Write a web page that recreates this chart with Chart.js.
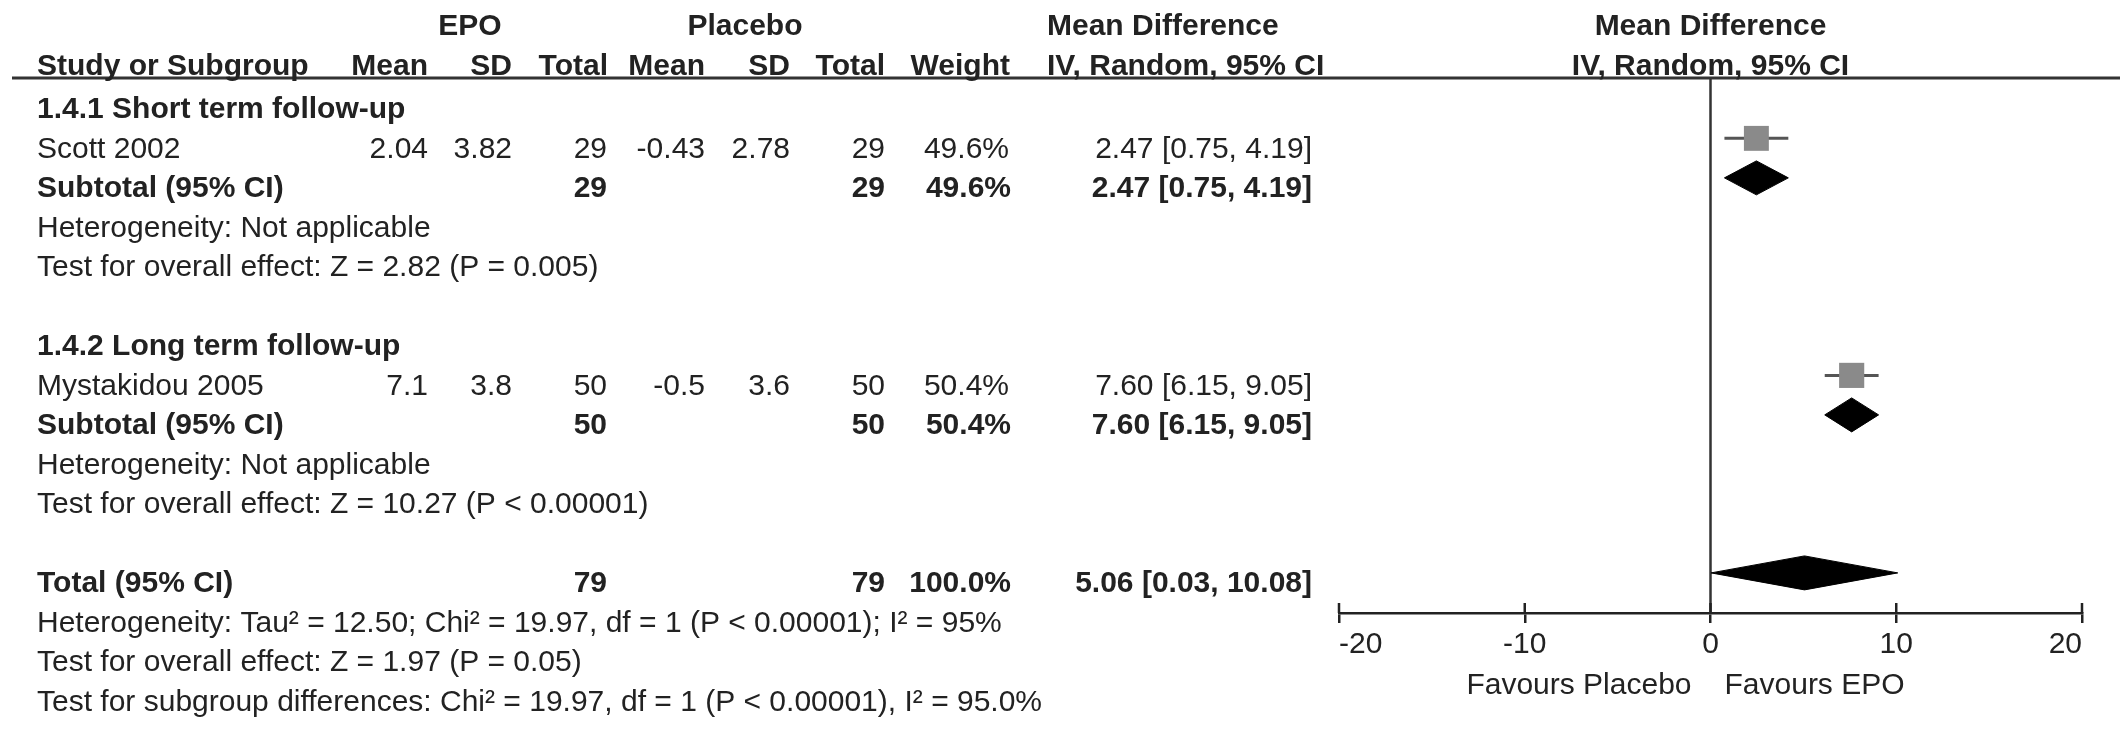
<!DOCTYPE html>
<html>
<head>
<meta charset="utf-8">
<script src="https://cdn.jsdelivr.net/npm/chart.js@4.4.0/dist/chart.umd.min.js"></script>
<style>
  html, body { margin: 0; padding: 0; background: #fff; }
  canvas { display: block; }
</style>
</head>
<body>
<canvas id="forest" width="2126" height="737"></canvas>
<script>
// ======================
// Data
// ======================
const studies = ["Scott 2002", "Mystakidou 2005"];
const epoMean = [2.04, 7.1];
const epoSD = [3.82, 3.8];
const epoTotal = [29, 50];
const placeboMean = [-0.43, -0.5];
const placeboSD = [2.78, 3.6];
const placeboTotal = [29, 50];
const weights = [49.6, 50.4];
const md = [2.47, 7.60];
const mdLow = [0.75, 6.15];
const mdHigh = [4.19, 9.05];

const subgroups = ["1.4.1 Short term follow-up", "1.4.2 Long term follow-up"];
const subEpoTotal = [29, 50];
const subPlaceboTotal = [29, 50];
const subWeight = [49.6, 50.4];
const subMd = [2.47, 7.60];
const subLow = [0.75, 6.15];
const subHigh = [4.19, 9.05];
const subHet = ["Heterogeneity: Not applicable", "Heterogeneity: Not applicable"];
const subEffect = [
  "Test for overall effect: Z = 2.82 (P = 0.005)",
  "Test for overall effect: Z = 10.27 (P < 0.00001)"
];

const overallLabel = "Total (95% CI)";
const overallTotals = [79, 79];
const overallWeight = 100.0;
const overallCI = [5.06, 0.03, 10.08];
const overallNotes = [
  "Heterogeneity: Tau² = 12.50; Chi² = 19.97, df = 1 (P < 0.00001); I² = 95%",
  "Test for overall effect: Z = 1.97 (P = 0.05)",
  "Test for subgroup differences: Chi² = 19.97, df = 1 (P < 0.00001), I² = 95.0%"
];

const xTicks = [-20, -10, 0, 10, 20];
const favours = ["Favours Placebo", "Favours EPO"];

// ======================
// Row layout (line numbers)
// ======================
const studyRow = i => i * 6 + 1;
const subRow = i => i * 6 + 2;
const totalRow = 12;
const yMin = -0.528, yMax = 13.015;

// style
const FONT = '"Liberation Sans", Arial, sans-serif';
const INK = "#222";
const DIAMOND_H = 0.43;
const TEXT_DY = 19.5;
const cols = { name: 37, eMean: 428, eSD: 512, eTot: 607, pMean: 705, pSD: 790, pTot: 885, w: 1009, ci: 1312, mdHead: 1047 };

function ci(v, lo, hi) {
  return v.toFixed(2) + " [" + lo.toFixed(2) + ", " + hi.toFixed(2) + "]";
}
function pct(w) {
  return w.toFixed(1) + "%";
}
function diamond(v, lo, hi, row) {
  return [
    { x: lo, y: row }, { x: v, y: row - DIAMOND_H },
    { x: hi, y: row }, { x: v, y: row + DIAMOND_H }, { x: lo, y: row }
  ];
}

// ======================
// Datasets
// ======================
const datasets = [];

datasets.push({
  label: "squares",
  data: studies.map((s, i) => ({ x: md[i], y: studyRow(i) })),
  pointStyle: "rect",
  pointRadius: weights.map(w => 17.7 * Math.sqrt(w / 50)),
  backgroundColor: "#8a8a8a",
  borderWidth: 0,
  order: 0
});

subgroups.forEach((g, i) => {
  datasets.push({
    label: "sub" + i,
    data: diamond(subMd[i], subLow[i], subHigh[i], subRow(i)),
    showLine: true, fill: "shape", pointRadius: 0,
    backgroundColor: "#000", borderColor: "#000", borderWidth: 1,
    order: 1
  });
});

datasets.push({
  label: "total",
  data: diamond(overallCI[0], overallCI[1], overallCI[2], totalRow),
  showLine: true, fill: "shape", pointRadius: 0,
  backgroundColor: "#000", borderColor: "#000", borderWidth: 1,
  order: 1
});

studies.forEach((s, i) => {
  datasets.push({
    label: "ci" + i,
    data: [{ x: mdLow[i], y: studyRow(i) }, { x: mdHigh[i], y: studyRow(i) }],
    showLine: true, pointRadius: 0,
    borderColor: "#555", borderWidth: 3,
    order: 2
  });
});

datasets.push({
  label: "zero",
  data: [{ x: 0, y: yMin }, { x: 0, y: yMax }],
  showLine: true, pointRadius: 0,
  borderColor: "#333", borderWidth: 2.5,
  order: 3
});

// ======================
// Table text + decorations
// ======================
const tablePlugin = {
  id: "forestTable",
  afterDraw(chart) {
    const ctx = chart.ctx;
    const ys = chart.scales.y;
    const xs = chart.scales.x;
    const area = chart.chartArea;
    const x0 = xs.getPixelForValue(0);

    function txt(t, x, y, align, bold) {
      ctx.font = (bold ? "bold " : "") + "30px " + FONT;
      ctx.textAlign = align;
      ctx.textBaseline = "alphabetic";
      ctx.fillStyle = INK;
      ctx.fillText(t, x, y);
    }
    const rowY = r => ys.getPixelForValue(r) + TEXT_DY;

    ctx.save();

    // top rule
    ctx.strokeStyle = "#333";
    ctx.lineWidth = 3;
    ctx.beginPath();
    ctx.moveTo(12, area.top);
    ctx.lineTo(2120, area.top);
    ctx.stroke();

    // upper half of axis ticks
    ctx.strokeStyle = INK;
    ctx.lineWidth = 2.5;
    xs.ticks.forEach(t => {
      const px = xs.getPixelForValue(t.value);
      ctx.beginPath();
      ctx.moveTo(px, area.bottom);
      ctx.lineTo(px, area.bottom - 10);
      ctx.stroke();
    });

    // headers
    txt("EPO", 470, 35, "center", true);
    txt("Placebo", 745, 35, "center", true);
    txt("Mean Difference", cols.mdHead, 35, "left", true);
    txt("Mean Difference", x0, 35, "center", true);
    txt("Study or Subgroup", cols.name, 75, "left", true);
    txt("Mean", cols.eMean, 75, "right", true);
    txt("SD", cols.eSD, 75, "right", true);
    txt("Total", cols.eTot + 1, 75, "right", true);
    txt("Mean", cols.pMean, 75, "right", true);
    txt("SD", cols.pSD, 75, "right", true);
    txt("Total", cols.pTot, 75, "right", true);
    txt("Weight", cols.w + 1, 75, "right", true);
    txt("IV, Random, 95% CI", cols.mdHead, 75, "left", true);
    txt("IV, Random, 95% CI", x0, 75, "center", true);

    // subgroups
    subgroups.forEach((g, i) => {
      const base = i * 6;
      txt(g, cols.name, rowY(base), "left", true);

      let y = rowY(studyRow(i));
      txt(studies[i], cols.name, y, "left", false);
      txt(String(epoMean[i]), cols.eMean, y, "right", false);
      txt(String(epoSD[i]), cols.eSD, y, "right", false);
      txt(String(epoTotal[i]), cols.eTot, y, "right", false);
      txt(String(placeboMean[i]), cols.pMean, y, "right", false);
      txt(String(placeboSD[i]), cols.pSD, y, "right", false);
      txt(String(placeboTotal[i]), cols.pTot, y, "right", false);
      txt(pct(weights[i]), cols.w, y, "right", false);
      txt(ci(md[i], mdLow[i], mdHigh[i]), cols.ci, y, "right", false);

      y = rowY(subRow(i));
      txt("Subtotal (95% CI)", cols.name, y, "left", true);
      txt(String(subEpoTotal[i]), cols.eTot, y, "right", true);
      txt(String(subPlaceboTotal[i]), cols.pTot, y, "right", true);
      txt(pct(subWeight[i]), cols.w + 2, y, "right", true);
      txt(ci(subMd[i], subLow[i], subHigh[i]), cols.ci, y, "right", true);

      txt(subHet[i], cols.name, rowY(base + 3), "left", false);
      txt(subEffect[i], cols.name, rowY(base + 4), "left", false);
    });

    // overall
    let y = rowY(totalRow);
    txt(overallLabel, cols.name, y, "left", true);
    txt(String(overallTotals[0]), cols.eTot, y, "right", true);
    txt(String(overallTotals[1]), cols.pTot, y, "right", true);
    txt(pct(overallWeight), cols.w + 2, y, "right", true);
    txt(ci(overallCI[0], overallCI[1], overallCI[2]), cols.ci, y, "right", true);
    overallNotes.forEach((n, k) => txt(n, cols.name, rowY(totalRow + 1 + k), "left", false));

    // favours labels
    txt(favours[0], x0 - 19, 694, "right", false);
    txt(favours[1], x0 + 14, 694, "left", false);

    ctx.restore();
  }
};

// ======================
// Chart
// ======================
Chart.defaults.font.family = FONT;
Chart.defaults.color = INK;

new Chart(document.getElementById("forest"), {
  type: "scatter",
  data: { datasets: datasets },
  options: {
    responsive: false,
    devicePixelRatio: 1,
    animation: false,
    layout: { padding: { left: 1339, right: 44, top: 78, bottom: 70 } },
    plugins: { legend: { display: false }, tooltip: { enabled: false } },
    scales: {
      x: {
        type: "linear",
        min: xTicks[0],
        max: xTicks[xTicks.length - 1],
        afterBuildTicks: s => { s.ticks = xTicks.map(v => ({ value: v })); },
        grid: { drawOnChartArea: false, color: INK, lineWidth: 2.5, tickLength: 10 },
        border: { display: true, color: INK, width: 2.5 },
        ticks: { font: { size: 30 }, color: INK, padding: 4, align: "inner", maxRotation: 0 }
      },
      y: {
        type: "linear",
        display: false,
        reverse: true,
        min: yMin,
        max: yMax
      }
    }
  },
  plugins: [tablePlugin]
});
</script>
</body>
</html>
